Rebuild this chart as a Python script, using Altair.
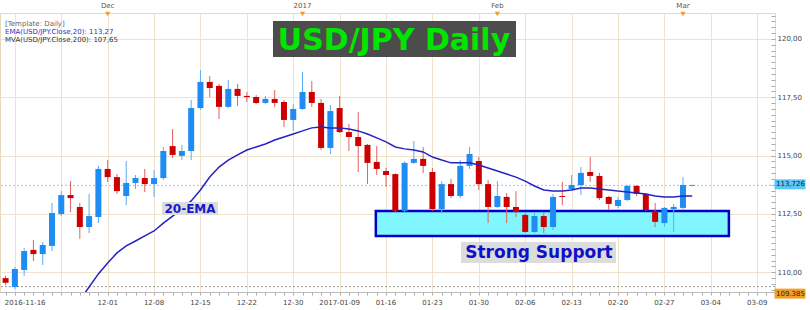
import altair as alt
import pandas as pd

# ---------------- data ----------------
idx = list(range(-1, 74))
open_ = [109.75, 109.37, 110.10, 110.96, 110.78, 111.13, 112.50, 113.31, 112.80, 111.94,
         112.37, 114.43, 114.08, 113.27, 113.83, 114.04, 113.78, 114.04, 115.41, 114.99,
         115.20, 117.04, 118.16, 117.99, 117.09, 117.86, 117.56, 117.51, 117.26, 117.43,
         117.30, 116.53, 117.00, 117.73, 117.26, 115.33, 117.04, 116.01, 115.80, 115.46,
         114.73, 114.34, 114.21, 112.63, 114.69, 114.86, 114.30, 112.71, 113.78, 113.27,
         114.56, 114.77, 113.78, 112.80, 113.23, 112.80, 112.46, 111.73, 112.41, 111.94,
         113.27, 113.57, 113.74, 114.30, 114.13, 113.23, 112.84, 113.10, 113.70, 113.36,
         112.63, 112.11, 112.71, 112.76, 113.70]
high = [109.85, 110.23, 111.04, 111.38, 111.30, 112.97, 113.48, 113.91, 112.97, 113.36,
        114.56, 114.81, 114.21, 114.77, 114.17, 114.43, 114.38, 115.37, 116.14, 115.46,
        117.39, 118.67, 118.41, 118.07, 118.24, 118.07, 117.73, 117.60, 117.56, 117.81,
        117.39, 117.21, 118.59, 118.20, 117.43, 117.17, 117.56, 116.36, 116.87, 115.50,
        115.41, 114.47, 114.25, 114.75, 115.63, 115.37, 114.47, 113.91, 114.00, 114.81,
        115.37, 114.94, 113.96, 113.91, 113.40, 113.48, 112.54, 112.58, 112.58, 113.36,
        113.87, 114.17, 114.51, 114.94, 114.26, 113.27, 113.23, 113.74, 113.74, 113.40,
        112.97, 112.80, 112.93, 114.08, 113.76]
low = [109.45, 109.28, 109.84, 110.48, 110.31, 110.91, 112.41, 112.58, 111.43, 111.68,
       112.11, 113.87, 113.36, 112.88, 113.57, 113.44, 113.23, 113.96, 114.90, 114.81,
       114.81, 116.96, 117.51, 116.57, 117.05, 117.13, 117.30, 117.21, 117.21, 117.09,
       116.23, 116.06, 116.96, 117.09, 115.24, 115.07, 115.97, 115.20, 114.30, 113.78,
       114.17, 113.66, 112.58, 112.58, 114.64, 114.26, 112.63, 112.58, 113.18, 113.18,
       114.43, 113.53, 112.11, 112.76, 112.11, 112.37, 111.68, 111.68, 111.68, 111.81,
       112.88, 113.53, 113.31, 113.87, 113.10, 112.67, 112.76, 113.05, 113.27, 112.63,
       111.94, 111.94, 111.73, 112.71, 113.68]
close = [109.55, 110.14, 110.91, 110.78, 111.17, 112.54, 113.31, 113.18, 111.94, 112.41,
         114.43, 114.08, 113.48, 113.83, 114.04, 113.78, 114.04, 115.20, 115.03, 115.20,
         117.04, 118.16, 117.90, 117.09, 117.86, 117.56, 117.51, 117.26, 117.43, 117.26,
         116.53, 117.00, 117.73, 117.26, 115.33, 116.91, 116.01, 115.80, 115.41, 114.69,
         114.43, 114.17, 112.63, 114.69, 114.86, 114.56, 112.71, 113.78, 113.27, 114.56,
         115.07, 113.78, 112.80, 113.27, 112.80, 112.58, 111.73, 112.41, 111.94, 113.23,
         113.23, 113.74, 114.26, 114.13, 113.18, 112.93, 113.10, 113.70, 113.36, 112.67,
         112.16, 112.76, 112.80, 113.74, 113.73]

ema_idx = list(range(7, 74))
ema_val = [108.81, 109.37, 109.93, 110.40, 110.83, 111.13, 111.34, 111.56, 111.77, 112.11,
           112.41, 112.71, 113.06, 113.53, 114.08, 114.51, 114.81, 115.03, 115.24, 115.37,
           115.50, 115.67, 115.80, 115.93, 116.06, 116.19, 116.23, 116.19, 116.19, 116.14,
           116.06, 115.93, 115.76, 115.59, 115.37, 115.29, 115.24, 115.16, 114.94, 114.81,
           114.69, 114.69, 114.69, 114.60, 114.47, 114.34, 114.21, 114.08, 113.91, 113.70,
           113.53, 113.48, 113.48, 113.53, 113.61, 113.61, 113.57, 113.53, 113.48, 113.44,
           113.40, 113.36, 113.27, 113.23, 113.23, 113.27, 113.27]

tick_idx = list(range(0, 81, 5))
tick_labels = ["2016-11-16", "", "12-01", "12-08", "12-15", "12-22", "12-30",
               "2017-01-09", "01-16", "01-23", "01-30", "02-06", "02-13",
               "02-20", "02-27", "03-04", "03-09"]

month_idx = [10, 31, 52, 72]
month_labels = ["Dec", "2017", "Feb", "Mar"]

level_price = [113.726, 109.385]
level_label = ["113,726", "109.385"]

support_low, support_high = 111.56, 112.63
support_from, support_to = 38.9, 76.95

legend_lines = ["[Template: Daily]", "EMA(USD/JPY.Close,20): 113,27",
                "MVA(USD/JPY.Close,200): 107,65"]

# ---------------- styles ----------------
FONT = "DejaVu Sans"
UP_BODY, DOWN_BODY = "#1E8CF2", "#CC0000"
UP_WICK, DOWN_WICK = "#5AAEF5", "#E06060"
GRID = "#EFE3CC"
W, H = 775, 279

candles = pd.DataFrame({"idx": idx, "open": open_, "high": high, "low": low, "close": close})
candles["body_lo"] = candles[["open", "close"]].min(axis=1)
candles["body_hi"] = candles[["open", "close"]].max(axis=1)
ema = pd.DataFrame({"idx": ema_idx, "ema": ema_val})

xs = alt.Scale(domain=[-1.064, 81.38], nice=False, zero=False)
ys = alt.Scale(domain=[109.155, 121.114], nice=False, zero=False)

x_axis = alt.Axis(
    orient="bottom", values=list(range(-1, 82)), labels=False,
    gridOpacity={"condition": {"test": "datum.value % 5 == 0", "value": 1}, "value": 0},
    grid=True, gridColor=GRID, domainColor="#BBBBBB", tickColor="#AAAAAA", tickSize=3,
    title=None)

y_axis = alt.Axis(
    orient="right", values=[109.25 + 0.25 * k for k in range(48)],
    labelExpr="datum.value % 2.5 == 0 ? replace(format(datum.value, '.2f'), '.', ',') : ''",
    gridOpacity={"condition": {"test": "datum.value % 2.5 == 0", "value": 1}, "value": 0},
    grid=True, gridColor=GRID, domain=False, offset=-4, tickSize=4, tickColor="#AAAAAA",
    labelFont=FONT, labelFontSize=7, labelColor="#444444", labelPadding=2,
    labelOverlap=False, labelBound=False, title=None)

up_test = "datum.close >= datum.open"

wicks = alt.Chart(candles).mark_rule(strokeWidth=1).encode(
    x=alt.X("idx:Q", scale=xs, axis=x_axis),
    y=alt.Y("low:Q", scale=ys, axis=y_axis),
    y2="high:Q",
    color=alt.condition(up_test, alt.value(UP_WICK), alt.value(DOWN_WICK)))

bodies = alt.Chart(candles).mark_bar(size=6).encode(
    x=alt.X("idx:Q", scale=xs, axis=None),
    y=alt.Y("body_lo:Q", scale=ys, axis=None),
    y2="body_hi:Q",
    color=alt.condition(up_test, alt.value(UP_BODY), alt.value(DOWN_BODY)))

ema_line = alt.Chart(ema).mark_line(color="#2424C0", strokeWidth=1.5, clip=True).encode(
    x=alt.X("idx:Q", scale=xs, axis=None),
    y=alt.Y("ema:Q", scale=ys, axis=None))

support_df = pd.DataFrame({"x1": [support_from], "x2": [support_to],
                           "lo": [support_low], "hi": [support_high]})
support = alt.Chart(support_df).mark_rect(
    fill="#80F6FF", stroke="#0000C8", strokeWidth=2.5).encode(
    x=alt.X("x1:Q", scale=xs, axis=None), x2="x2:Q",
    y=alt.Y("lo:Q", scale=ys, axis=None), y2="hi:Q")

levels_df = pd.DataFrame({"price": level_price, "label": level_label})
level_lines = alt.Chart(levels_df).mark_rule(strokeDash=[2, 2], strokeWidth=1).encode(
    y=alt.Y("price:Q", scale=ys, axis=None),
    color=alt.condition("datum.price > 111", alt.value("#88CCEE"), alt.value("#999999")))

flags = []
for price, label, fill, tcol, off in zip(level_price, level_label,
                                         ["#5CC6F2", "#F0A028"], ["#0A1E46", "#3A2000"], [-1, 7]):
    d = pd.DataFrame({"price": [price], "label": [label]})
    flags.append(alt.Chart(d).mark_tick(size=31, thickness=10, color=fill, opacity=1,
                                        yOffset=off).encode(
        x=alt.value(790), y=alt.Y("price:Q", scale=ys, axis=None)))
    flags.append(alt.Chart(d).mark_text(font=FONT, fontSize=7, color=tcol, align="left",
                                        baseline="middle", dy=off).encode(
        x=alt.value(776), y=alt.Y("price:Q", scale=ys, axis=None), text="label:N"))

# bottom date labels (first one flush-left at the chart edge)
ticks_df = pd.DataFrame({"idx": tick_idx, "label": tick_labels})
first_lab = alt.Chart(ticks_df.iloc[:1]).mark_text(
    font=FONT, fontSize=7, color="#444444", align="left", baseline="middle", dx=-10).encode(
    x=alt.X("idx:Q", scale=xs, axis=None), y=alt.value(H + 11), text="label:N")
other_labs = alt.Chart(ticks_df.iloc[1:]).mark_text(
    font=FONT, fontSize=7, color="#444444", align="center", baseline="middle").encode(
    x=alt.X("idx:Q", scale=xs, axis=None), y=alt.value(H + 11), text="label:N")

months_df = pd.DataFrame({"idx": month_idx, "label": month_labels})
month_text = alt.Chart(months_df).mark_text(font=FONT, fontSize=7, color="#555555",
                                            baseline="middle").encode(
    x=alt.X("idx:Q", scale=xs, axis=None), y=alt.value(-7), text="label:N")
month_tri = alt.Chart(months_df).mark_point(shape="triangle-down", filled=True, size=28,
                                            color="#F0A030", opacity=1).encode(
    x=alt.X("idx:Q", scale=xs, axis=None), y=alt.value(1))

# ---------------- annotations ----------------
title_df = pd.DataFrame({"t": ["USD/JPY Daily"]})
title_box = alt.Chart(title_df).mark_rect(color="#4C4C4C").encode(
    x=alt.value(273), x2=alt.value(516), y=alt.value(8), y2=alt.value(44))
title_txt = alt.Chart(title_df).mark_text(font=FONT, fontWeight="bold", fontSize=30,
                                          color="#00E600", align="center",
                                          baseline="alphabetic").encode(
    x=alt.value(394), y=alt.value(37), text="t:N")

ema_df = pd.DataFrame({"t": ["20-EMA"]})
ema_box = alt.Chart(ema_df).mark_rect(color="#DCDCDC").encode(
    x=alt.value(162), x2=alt.value(218), y=alt.value(189), y2=alt.value(202))
ema_txt = alt.Chart(ema_df).mark_text(font=FONT, fontWeight="bold", fontSize=12,
                                      color="#1818C8", align="center",
                                      baseline="alphabetic").encode(
    x=alt.value(190), y=alt.value(200), text="t:N")

sup_df = pd.DataFrame({"t": ["Strong Support"]})
sup_box = alt.Chart(sup_df).mark_rect(color="#DCDCDC").encode(
    x=alt.value(461), x2=alt.value(616), y=alt.value(229), y2=alt.value(250))
sup_txt = alt.Chart(sup_df).mark_text(font=FONT, fontWeight="bold", fontSize=17,
                                      color="#1010C8", align="center",
                                      baseline="alphabetic").encode(
    x=alt.value(539), y=alt.value(245), text="t:N")

legend_layers = []
for txt, col, ypos in zip(legend_lines, ["#666666", "#3030C8", "#333333"], [11, 19, 26.5]):
    legend_layers.append(
        alt.Chart(pd.DataFrame({"t": [txt]})).mark_text(
            font=FONT, fontSize=7, align="left", baseline="middle", color=col).encode(
            x=alt.value(5), y=alt.value(ypos), text="t:N"))

chart = alt.layer(
    support, level_lines, wicks, bodies, ema_line,
    title_box, title_txt, ema_box, ema_txt, sup_box, sup_txt,
    *flags, first_lab, other_labs, month_text, month_tri, *legend_layers
).resolve_axis(
    x="independent", y="independent"
).properties(
    width=W, height=H,
    padding={"left": 0, "top": 13, "right": 35, "bottom": 18},
    autosize=alt.AutoSizeParams(type="none"),
    background="white",
).configure_view(stroke="#E6D8BC", strokeWidth=1).configure_text(font=FONT)

chart.save("out.html", embed_options={"renderer": "svg", "actions": False})
